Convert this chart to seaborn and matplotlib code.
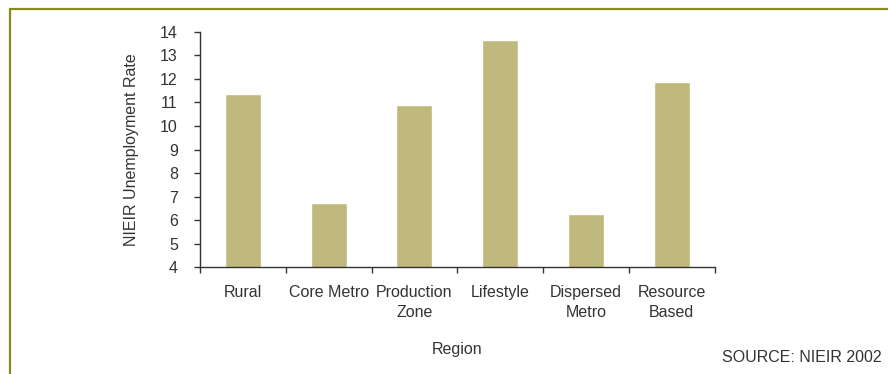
import matplotlib
matplotlib.use("Agg")
import matplotlib.pyplot as plt
from matplotlib.lines import Line2D
import seaborn as sns
import pandas as pd

regions = ["Rural", "Core Metro", "Production\nZone", "Lifestyle", "Dispersed\nMetro", "Resource\nBased"]
rates = [11.35, 6.75, 10.9, 13.63, 6.25, 11.85]
y_ticks = list(range(4, 15))

df = pd.DataFrame({"Region": regions, "Rate": rates})

sns.set_theme(style="white")
plt.rcParams["font.family"] = ["Liberation Sans", "DejaVu Sans"]
text_col = "#333333"
fs = 11.5

fig = plt.figure(figsize=(8.88, 3.74), dpi=100)
ax = fig.add_axes([0.2252, 0.2853, 0.5796, 0.6299])

sns.barplot(data=df, x="Region", y="Rate", color="#c0b97e", saturation=1,
            width=0.42, ax=ax)

ax.set_ylim(4, 14)
ax.set_xlim(-0.5, len(regions) - 0.5)
ax.set_yticks(y_ticks)
ax.set_yticklabels([str(t) for t in y_ticks])

# category boundaries carry the tick marks on the x axis
ax.set_xticks([i - 0.5 for i in range(len(regions) + 1)], minor=True)
ax.tick_params(axis="x", which="major", length=0, pad=13, labelsize=fs, labelcolor=text_col)
ax.tick_params(axis="x", which="minor", length=4, width=1, color=text_col, direction="out", bottom=True)
ax.tick_params(axis="y", which="major", length=4, width=1, color=text_col, direction="out",
               left=True, pad=12, labelsize=fs, labelcolor=text_col)
for lbl in ax.get_xticklabels():
    lbl.set_linespacing(1.35)

for side in ["top", "right"]:
    ax.spines[side].set_visible(False)
for side in ["left", "bottom"]:
    ax.spines[side].set_color(text_col)
    ax.spines[side].set_linewidth(1)

ax.set_xlabel("Region", fontsize=fs, color=text_col, labelpad=16)
ax.set_ylabel("NIEIR Unemployment Rate", fontsize=fs, color=text_col, labelpad=15)

fig.text(0.993, 0.043, "SOURCE: NIEIR 2002", ha="right", va="center", fontsize=fs, color=text_col)

# olive frame along the top and left edges
border = "#8b8a22"
fig.add_artist(Line2D([0.0113, 1.0], [0.9746, 0.9746], transform=fig.transFigure, color=border, lw=1.6))
fig.add_artist(Line2D([0.0113, 0.0113], [0.0, 0.9746], transform=fig.transFigure, color=border, lw=1.6))

fig.savefig("out.png", dpi=100)
